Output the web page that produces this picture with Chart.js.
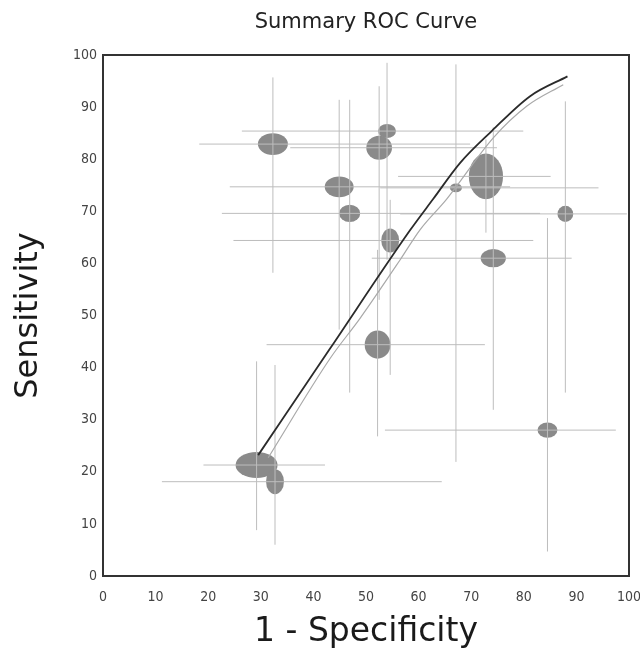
<!DOCTYPE html>
<html>
<head>
<meta charset="utf-8">
<script src="https://cdn.jsdelivr.net/npm/chart.js@4"></script>
<style>
  body { margin: 0; background: #fff; }
  #wrap { width: 640px; height: 662px; }
</style>
</head>
<body>
<div id="wrap"><canvas id="rocChart"></canvas></div>
<script>
// study estimates (1 - specificity, sensitivity), in %
const studyX = [32.3, 54.0, 52.5, 44.9, 46.9, 87.9, 72.8, 67.1, 54.6, 74.2, 52.2, 84.5, 29.2, 32.7];
const studyY = [82.9, 85.4, 82.2, 74.7, 69.6, 69.5, 76.7, 74.5, 64.4, 61.0, 44.4, 28.0, 21.3, 18.1];
// ellipse size per study (in axis units)
const ellipseW = [5.7, 3.4, 4.9, 5.5, 4.0, 3.0, 6.5, 2.3, 3.4, 4.8, 4.9, 3.8, 8.0, 3.4];
const ellipseH = [4.2, 2.7, 4.6, 4.0, 3.3, 3.1, 8.8, 1.7, 4.6, 3.5, 5.4, 2.9, 5.0, 4.8];
// confidence intervals
const ciXLow  = [18.3, 26.4, 35.6, 24.1, 22.6, 56.5, 56.1, 52.7, 24.8, 51.1, 31.1, 53.6, 19.1, 11.2];
const ciXHigh = [69.8, 79.9, 74.9, 77.4, 83.1, 99.6, 85.1, 94.2, 81.8, 89.1, 72.6, 97.5, 42.2, 64.4];
const ciYLow  = [58.2, 60.7, 53.0, 47.3, 35.2, 35.2, 65.9, 21.9, 38.6, 31.9, 26.8, 4.7, 8.8, 6.0];
const ciYHigh = [95.7, 98.5, 94.0, 91.4, 91.4, 91.1, 83.8, 98.2, 72.2, 86.1, 62.6, 68.7, 41.2, 40.5];

// summary ROC curves
const srocX = [29.5, 43.2, 58.4, 62.8, 67.9, 73.9, 81.2, 88.3];
const srocY = [23.2, 43.7, 66.4, 72.4, 79.3, 85.4, 92.1, 95.9];
const sroc2X = [31.4, 43.2, 48.9, 56.5, 60.3, 65.3, 74.2, 80.6, 87.5];
const sroc2Y = [22.7, 41.8, 49.5, 60.7, 66.5, 72.3, 84.1, 90.2, 94.3];

const axisTicks = [0, 10, 20, 30, 40, 50, 60, 70, 80, 90, 100];

const tickFont = { family: "'Liberation Sans Narrow', 'DejaVu Sans Condensed', 'Liberation Sans', sans-serif", size: 14 };
const titleFamily = "'DejaVu Sans', 'Liberation Sans', sans-serif";

// build CI crosshair segments, separated by gaps
const ciPoints = [];
studyX.forEach((x, i) => {
    ciPoints.push({ x: ciXLow[i], y: studyY[i] }, { x: ciXHigh[i], y: studyY[i] }, { x: null, y: null });
    ciPoints.push({ x: x, y: ciYLow[i] }, { x: x, y: ciYHigh[i] }, { x: null, y: null });
});

const toXY = (xs, ys) => xs.map((x, i) => ({ x: x, y: ys[i] }));

// draws each study as a filled ellipse, sized through the scales
const ellipsePlugin = {
    id: "studyEllipses",
    beforeDatasetsDraw(chart) {
        const { ctx, chartArea, scales: { x, y } } = chart;
        ctx.save();
        ctx.beginPath();
        ctx.rect(chartArea.left, chartArea.top, chartArea.right - chartArea.left, chartArea.bottom - chartArea.top);
        ctx.clip();
        ctx.fillStyle = "#8a8a8a";
        studyX.forEach((sx, i) => {
            const cx = x.getPixelForValue(sx);
            const cy = y.getPixelForValue(studyY[i]);
            const rx = Math.abs(x.getPixelForValue(sx + ellipseW[i] / 2) - cx);
            const ry = Math.abs(y.getPixelForValue(studyY[i] + ellipseH[i] / 2) - cy);
            ctx.beginPath();
            ctx.ellipse(cx, cy, rx, ry, 0, 0, Math.PI * 2);
            ctx.fill();
        });
        ctx.restore();
    }
};

// fixed axis box sizes so the plot frame lands where the original has it
const fixSize = (prop, val) => (scale) => {
    scale[prop] = val;
    scale.paddingLeft = 0;
    scale.paddingRight = 0;
    scale.paddingTop = 0;
    scale.paddingBottom = 0;
};

new Chart(document.getElementById("rocChart"), {
    type: "scatter",
    data: {
        datasets: [
            { label: "SROC", data: toXY(srocX, srocY), showLine: true, borderColor: "#2b2b2b", borderWidth: 1.8, pointRadius: 0, cubicInterpolationMode: "monotone", order: 1 },
            { label: "SROC 2", data: toXY(sroc2X, sroc2Y), showLine: true, borderColor: "#a9a9a9", borderWidth: 1.2, pointRadius: 0, cubicInterpolationMode: "monotone", order: 2 },
            { label: "CI", data: ciPoints, showLine: true, spanGaps: false, borderColor: "#bdbdbd", borderWidth: 1, pointRadius: 0, order: 3 },
            { label: "Studies", data: toXY(studyX, studyY), pointRadius: 0, order: 4 }
        ]
    },
    options: {
        responsive: true,
        maintainAspectRatio: false,
        animation: false,
        layout: { padding: 0 },
        plugins: { legend: { display: false }, tooltip: { enabled: false } },
        scales: {
            x: {
                type: "linear", position: "bottom", min: 0, max: 100,
                afterBuildTicks: (s) => { s.ticks = axisTicks.map(v => ({ value: v })); },
                afterFit: fixSize("height", 86),
                grid: { display: false, drawTicks: false },
                border: { display: true, color: "#333", width: 2 },
                ticks: { color: "#444", font: tickFont, padding: 13 },
                title: { display: true, text: "1 - Specificity", color: "#1a1a1a", font: { family: titleFamily, size: 33, lineHeight: 1 }, padding: { top: 0, bottom: 13 } }
            },
            x2: {
                type: "linear", position: "top", min: 0, max: 100,
                afterFit: fixSize("height", 55),
                grid: { display: false, drawTicks: false },
                border: { display: true, color: "#333", width: 2 },
                ticks: { display: false },
                title: { display: true, text: "Summary ROC Curve", color: "#222", font: { family: titleFamily, size: 21, lineHeight: 1 }, padding: { top: 12, bottom: 0 } }
            },
            y: {
                type: "linear", position: "left", min: 0, max: 100,
                afterBuildTicks: (s) => { s.ticks = axisTicks.map(v => ({ value: v })); },
                afterFit: fixSize("width", 103),
                grid: { display: false, drawTicks: false },
                border: { display: true, color: "#333", width: 2 },
                ticks: { color: "#444", font: tickFont, padding: 6 },
                title: { display: true, text: "Sensitivity", color: "#1a1a1a", font: { family: titleFamily, size: 32, lineHeight: 1 }, padding: { top: 13, bottom: 0 } }
            },
            y2: {
                type: "linear", position: "right", min: 0, max: 100,
                afterFit: fixSize("width", 11),
                grid: { display: false, drawTicks: false },
                border: { display: true, color: "#333", width: 2 },
                ticks: { display: false }
            }
        }
    },
    plugins: [ellipsePlugin]
});
</script>
</body>
</html>
